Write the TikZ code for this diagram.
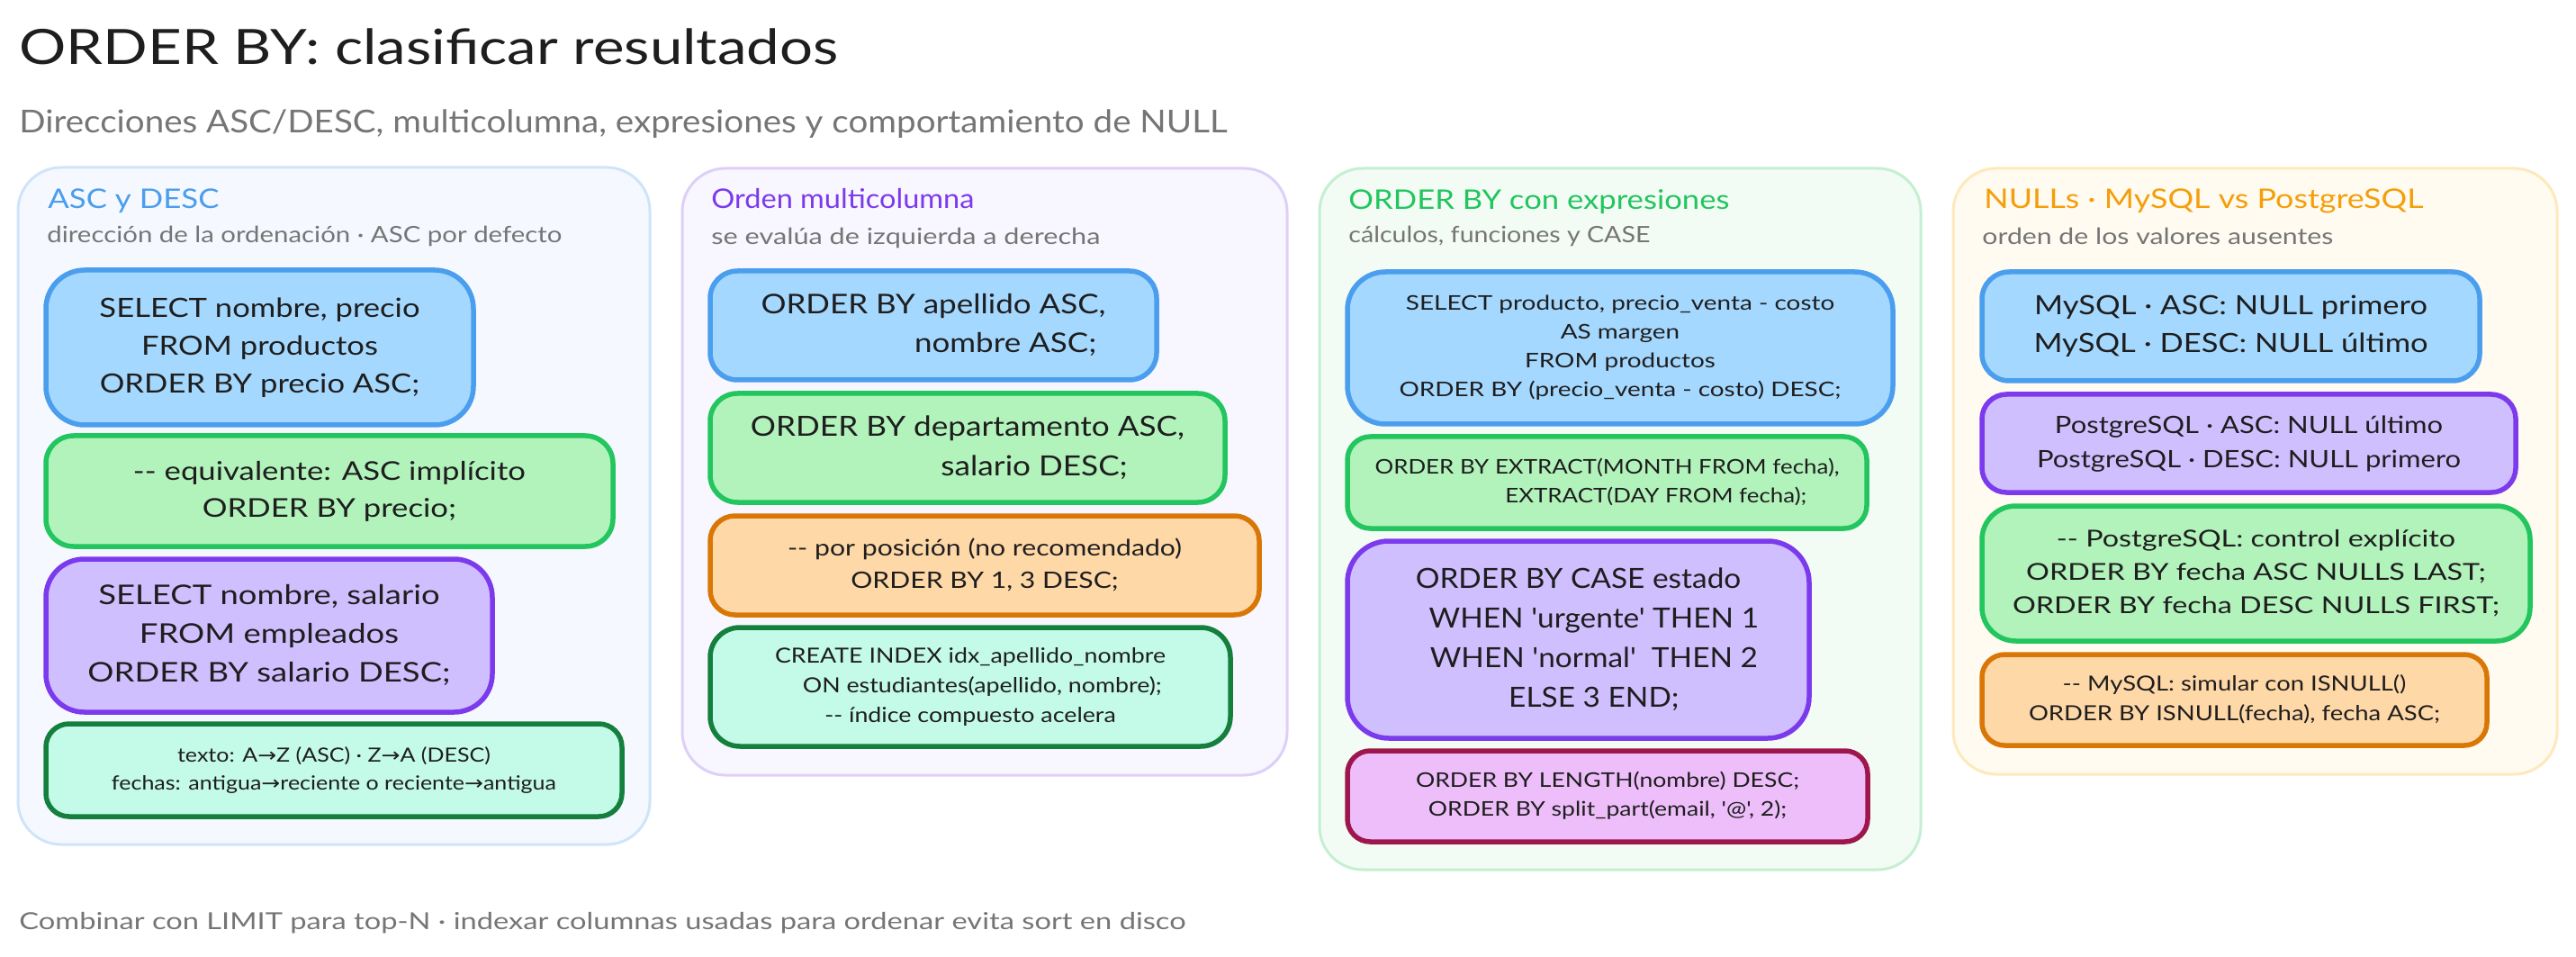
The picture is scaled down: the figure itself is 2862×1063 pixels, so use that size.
\documentclass[tikz,border=0pt]{standalone}
\usepackage{fontspec}
\usepackage{graphicx}
\setmainfont{Lato}[Ligatures=TeXOff]
\newfontfamily\arwfont{DejaVu Sans}
\newcommand{\arw}{{\arwfont →}}
\newdimen\pxu \pxu=0.5pt
\definecolor{inkdark}{HTML}{1E1E1E}
\definecolor{inkgrey}{HTML}{757575}
\definecolor{sblue}{HTML}{4A9EED}\definecolor{fblue}{HTML}{A5D8FF}
\definecolor{sgreen}{HTML}{22C55E}\definecolor{fgreen}{HTML}{B2F2BB}
\definecolor{spurple}{HTML}{7C3AED}\definecolor{fpurple}{HTML}{D0BFFF}
\definecolor{sorange}{HTML}{D97706}\definecolor{forange}{HTML}{FFD8A8}
\definecolor{steal}{HTML}{15803D}\definecolor{fteal}{HTML}{C3FAE8}
\definecolor{spink}{HTML}{9D174D}\definecolor{fpink}{HTML}{EEBEFA}
\definecolor{pblue}{HTML}{F5F8FF}\definecolor{pbluel}{HTML}{CFE4FB}
\definecolor{ppurple}{HTML}{F8F6FF}\definecolor{ppurplel}{HTML}{DDD0F8}
\definecolor{pgreen}{HTML}{F3FBF5}\definecolor{pgreenl}{HTML}{C4EFD1}
\definecolor{pamber}{HTML}{FFFBF0}\definecolor{pamberl}{HTML}{FDE9BD}
\definecolor{tamber}{HTML}{F59E0B}
\tikzset{
  codebase/.style={draw, inner sep=0pt, line width=2.75pt, text=inkdark, align=center},
  cblue/.style={codebase, draw=sblue, fill=fblue},
  cgreen/.style={codebase, draw=sgreen, fill=fgreen},
  cpurple/.style={codebase, draw=spurple, fill=fpurple},
  corange/.style={codebase, draw=sorange, fill=forange},
  cteal/.style={codebase, draw=steal, fill=fteal},
  cpink/.style={codebase, draw=spink, fill=fpink},
  panelbase/.style={draw, inner sep=0pt, line width=1.5pt, rounded corners=24pt},
  pnlblue/.style={panelbase, draw=pbluel, fill=pblue},
  pnlpurple/.style={panelbase, draw=ppurplel, fill=ppurple},
  pnlgreen/.style={panelbase, draw=pgreenl, fill=pgreen},
  pnlamber/.style={panelbase, draw=pamberl, fill=pamber},
  textline/.style={anchor=base west, inner sep=0pt},
  maintitle/.style={textline, text=inkdark, font=\fontsize{27}{32}\selectfont},
  subline/.style={textline, text=inkgrey, font=\fontsize{17.5}{21}\selectfont},
  paneltitle/.style={textline, font=\fontsize{15}{18}\selectfont},
  panelsub/.style={textline, text=inkgrey, font=\fontsize{12.5}{15}\selectfont},
  footline/.style={textline, text=inkgrey, font=\fontsize{13}{16}\selectfont},
}
\newcommand{\fitw}[2]{\resizebox{#1\pxu}{\height}{#2}}
\newcommand{\fitlines}[2]{\resizebox{#1\pxu}{\height}{\begin{tabular}{@{}c@{}}#2\end{tabular}}}
% name, style, x0, y0, x1, y1, text width, line pitch, lines
\newcommand{\codebox}[9]{%
  \pgfmathsetmacro\cxx{(#3+#5)/2}\pgfmathsetmacro\cyy{(#4+#6)/2}%
  \pgfmathsetmacro\bww{(#5-#3)*0.5}\pgfmathsetmacro\bhh{(#6-#4)*0.5}%
  \pgfmathsetmacro\rrr{min(0.25*\bhh,23)}%
  \pgfmathsetmacro\fss{#8*0.35}\pgfmathsetmacro\ldd{#8*0.5}%
  \node[#2, minimum width=\bww pt, minimum height=\bhh pt, rounded corners=\rrr pt,
        font=\fontsize{\fss}{\ldd}\selectfont] (#1) at (\cxx,\cyy) {\fitlines{#7}{#9}};%
}
% name, style, x0, y0, x1, y1
\newcommand{\panelbox}[6]{%
  \pgfmathsetmacro\cxx{(#3+#5)/2}\pgfmathsetmacro\cyy{(#4+#6)/2}%
  \pgfmathsetmacro\bww{(#5-#3)*0.5}\pgfmathsetmacro\bhh{(#6-#4)*0.5}%
  \node[#2, minimum width=\bww pt, minimum height=\bhh pt] (#1) at (\cxx,\cyy) {};%
}
\begin{document}
\begin{tikzpicture}[x=0.5pt,y=-0.5pt]
\useasboundingbox (0,0) rectangle (2862,1063);
\node[maintitle] (title) at (21,72) {\fitw{910}{ORDER BY: clasificar resultados}};
\node[subline] (subtitle) at (21,148) {\fitw{1342}{Direcciones ASC/DESC, multicolumna, expresiones y comportamiento de NULL}};
\node[footline] (footer) at (21,1032) {\fitw{1296}{Combinar con LIMIT para top-N · indexar columnas usadas para ordenar evita sort en disco}};

\panelbox{p1}{pnlblue}{20}{186}{722}{938}
\panelbox{p2}{pnlpurple}{758}{187}{1430}{861}
\panelbox{p3}{pnlgreen}{1466}{187}{2134}{966}
\panelbox{p4}{pnlamber}{2170}{187}{2841}{860}

\node[paneltitle, text=sblue] (t1) at (53,232) {\fitw{190}{ASC y DESC}};
\node[panelsub] (s1) at (52,270) {\fitw{572}{dirección de la ordenación · ASC por defecto}};
\node[paneltitle, text=spurple] (t2) at (790,232) {\fitw{292}{Orden multicolumna}};
\node[panelsub] (s2) at (790,272) {\fitw{432}{se evalúa de izquierda a derecha}};
\node[paneltitle, text=sgreen] (t3) at (1498,233) {\fitw{423}{ORDER BY con expresiones}};
\node[panelsub] (s3) at (1498,270) {\fitw{335}{cálculos, funciones y CASE}};
\node[paneltitle, text=tamber] (t4) at (2204,232) {\fitw{488}{NULLs · MySQL vs PostgreSQL}};
\node[panelsub] (s4) at (2202,272) {\fitw{390}{orden de los valores ausentes}};

\codebox{a1}{cblue}{51}{300}{526}{472}{356}{42}{SELECT nombre, precio\\FROM productos\\ORDER BY precio ASC;}
\codebox{a2}{cgreen}{51}{484}{681}{607}{436}{41}{-- equivalente: ASC implícito\\ORDER BY precio;}
\codebox{a3}{cpurple}{51}{621}{547}{791}{403}{43}{SELECT nombre, salario\\FROM empleados\\ORDER BY salario DESC;}
\codebox{a4}{cteal}{51}{804}{691}{907}{494}{31}{texto: A\arw Z (ASC) · Z\arw A (DESC)\\fechas: antigua\arw reciente o reciente\arw antigua}

\codebox{b1}{cblue}{789}{301}{1285}{422}{383}{43}{ORDER BY apellido ASC,\\\hspace*{69pt}nombre ASC;}
\codebox{b2}{cgreen}{789}{437}{1361}{558}{482}{44}{ORDER BY departamento ASC,\\\hspace*{65pt}salario DESC;}
\codebox{b3}{corange}{789}{573}{1399}{683}{438}{36}{-- por posición (no recomendado)\\ORDER BY 1, 3 DESC;}
\codebox{b4}{cteal}{789}{697}{1367}{829}{434}{33}{CREATE INDEX idx\_apellido\_nombre\\\hspace*{11.5pt}ON estudiantes(apellido, nombre);\\-- índice compuesto acelera}

\codebox{c1}{cblue}{1497}{302}{2103}{471}{491}{32}{SELECT producto, precio\_venta - costo\\AS margen\\FROM productos\\ORDER BY (precio\_venta - costo) DESC;}
\codebox{c2}{cgreen}{1497}{485}{2074}{587}{516}{32}{ORDER BY EXTRACT(MONTH FROM fecha),\\\hspace*{47pt}EXTRACT(DAY FROM fecha);}
\codebox{c3}{cpurple}{1497}{601}{2010}{820}{401}{44}{ORDER BY CASE estado\\\hspace*{16pt}WHEN 'urgente' THEN 1\\\hspace*{16pt}WHEN 'normal'\ \ THEN 2\\\hspace*{16pt}ELSE 3 END;}
\codebox{c4}{cpink}{1497}{834}{2075}{935}{426}{32}{ORDER BY LENGTH(nombre) DESC;\\ORDER BY split\_part(email, '@', 2);}

\codebox{d1}{cblue}{2202}{302}{2755}{423}{438}{42}{MySQL · ASC: NULL primero\\MySQL · DESC: NULL último}
\codebox{d2}{cpurple}{2202}{438}{2795}{547}{471}{38}{PostgreSQL · ASC: NULL último\\PostgreSQL · DESC: NULL primero}
\codebox{d3}{cgreen}{2202}{562}{2811}{712}{541}{37}{-- PostgreSQL: control explícito\\ORDER BY fecha ASC NULLS LAST;\\ORDER BY fecha DESC NULLS FIRST;}
\codebox{d4}{corange}{2202}{727}{2763}{828}{457}{33}{-- MySQL: simular con ISNULL()\\ORDER BY ISNULL(fecha), fecha ASC;}
\end{tikzpicture}
\end{document}
